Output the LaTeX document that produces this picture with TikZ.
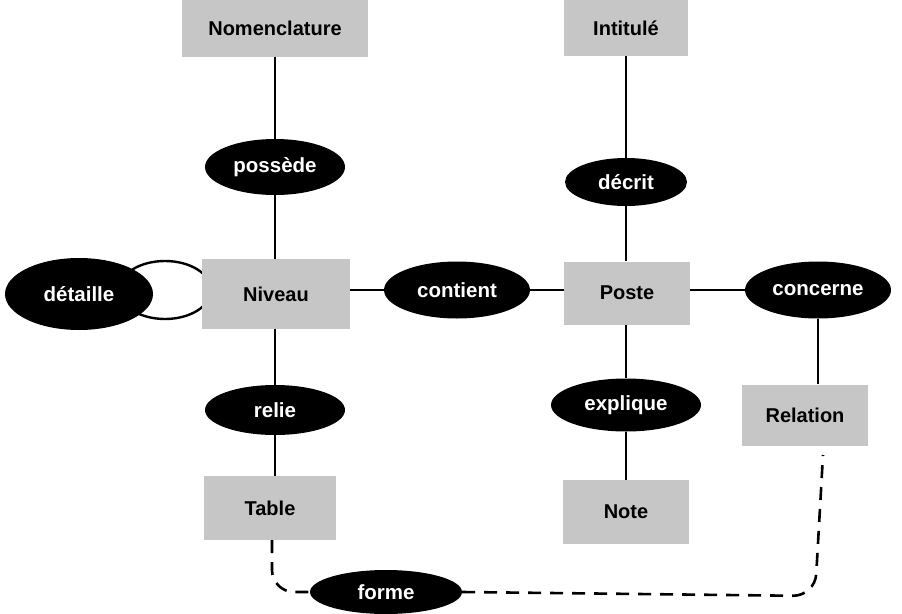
\documentclass[tikz,border=0pt]{standalone}
\usepackage{fontspec}
\setmainfont{Liberation Sans}
\usetikzlibrary{shapes.geometric}
\begin{document}
\begin{tikzpicture}[x=1pt,y=-1pt,
  entity/.style={rectangle, fill=gray!45, inner sep=0pt, font=\fontsize{20}{22}\selectfont\bfseries},
  relation/.style={ellipse, fill=black, text=white, inner sep=0pt, font=\fontsize{20.5}{22}\selectfont\bfseries},
  link/.style={line width=2.6pt},
  dlink/.style={line width=2.6pt, dash pattern=on 13pt off 9pt, rounded corners=22pt}]
\useasboundingbox (0,0) rectangle (902,613);
% loop behind
\draw[line width=2.4pt, fill=white] (165,290) ellipse [x radius=46, y radius=29];
% entities
\node[entity, minimum width=186, minimum height=57] (nom) at (275,28) {Nomenclature};
\node[entity, minimum width=124, minimum height=56] (int) at (626,28) {Intitulé};
\node[entity, minimum width=148, minimum height=70] (niv) at (276,294) {Niveau};
\node[entity, minimum width=126, minimum height=63] (pos) at (627,293) {Poste};
\node[entity, minimum width=126, minimum height=61] (rel) at (805,415) {Relation};
\node[entity, minimum width=132, minimum height=64] (tab) at (270,508) {Table};
\node[entity, minimum width=126, minimum height=64] (note) at (626,512) {Note};
% relations
\node[relation, minimum width=140, minimum height=56] (pos1) at (275,167) {possède};
\node[relation, minimum width=122, minimum height=48] (dec) at (626,182) {décrit};
\node[relation, minimum width=148, minimum height=72] (det) at (79,294) {détaille};
\node[relation, minimum width=146, minimum height=57] (con) at (457,290) {contient};
\node[relation, minimum width=146, minimum height=57] (conc) at (818,290) {concerne};
\node[relation, minimum width=140, minimum height=50] (rlie) at (275,410) {relie};
\node[relation, minimum width=150, minimum height=53] (exp) at (626,405) {explique};
\node[relation, minimum width=152, minimum height=44] (for) at (386,592) {forme};
% connectors
\draw[link] (nom) -- (pos1);
\draw[link] (pos1) -- (pos1 |- niv.north);
\draw[link] (pos1 |- niv.south) -- (rlie);
\draw[link] (rlie) -- (rlie |- tab.north);
\draw[link] (int) -- (dec);
\draw[link] (dec) -- (dec |- pos.north);
\draw[link] (dec |- pos.south) -- (exp);
\draw[link] (exp) -- (note);
\draw[link] (niv.east |- con) -- (con);
\draw[link] (con) -- (pos.west |- con);
\draw[link] (pos.east |- conc) -- (conc);
\draw[link] (conc.south) -- (conc.south |- rel.north);
\coordinate (ts) at (272,540);
\coordinate (rb) at (823,455);
\draw[dlink] (ts) -- (ts |- for) -- (for.west);
\draw[dlink] (for.east) -- (815,596) -- (rb);
\end{tikzpicture}
\end{document}
